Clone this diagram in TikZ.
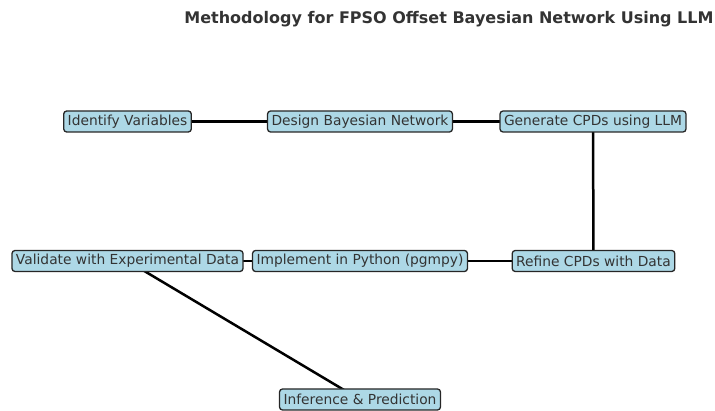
\documentclass[tikz,border=0pt]{standalone}
\usepackage{fontspec}
\setmainfont{DejaVu Sans}
\definecolor{boxfill}{HTML}{ADD8E6}
\definecolor{txt}{HTML}{333333}
\begin{document}
\begin{tikzpicture}[x=1pt,y=-1pt,
  stepbox/.style={draw=black!85, line width=1.3pt, fill=boxfill, rounded corners=3pt,
    inner xsep=4pt, inner ysep=0pt, minimum height=21pt, text=txt,
    font=\fontsize{13.8}{16}\selectfont, anchor=center},
  link/.style={draw=black, line width=2.5pt}]
\useasboundingbox (0,0) rectangle (715,411);
\node[font=\bfseries\fontsize{16}{19}\selectfont, text=txt] (title) at (449,19) {Methodology for FPSO Offset Bayesian Network Using LLM};
\coordinate (cA) at (127.5,121.5);
\coordinate (cB) at (360,121.5);
\coordinate (cC) at (593,121.5);
\coordinate (cD) at (593.5,261);
\coordinate (cE) at (360,261);
\coordinate (cF) at (127.5,261);
\coordinate (cG) at (360,399.5);
\draw[link] (cA) -- (cB);
\draw[link] (cB) -- (cC);
\draw[link] (cC) -- (cD);
\draw[link] (cD) -- (cE);
\draw[link] (cE) -- (cF);
\draw[link] (cF) -- (cG);
\node[stepbox] (A) at (cA) {Identify Variables};
\node[stepbox] (B) at (cB) {Design Bayesian Network};
\node[stepbox] (C) at (cC) {Generate CPDs using LLM};
\node[stepbox] (D) at (cD) {Refine CPDs with Data};
\node[stepbox] (E) at (cE) {Implement in Python (pgmpy)};
\node[stepbox] (F) at (cF) {Validate with Experimental Data};
\node[stepbox] (G) at (cG) {Inference \& Prediction};
\end{tikzpicture}
\end{document}
